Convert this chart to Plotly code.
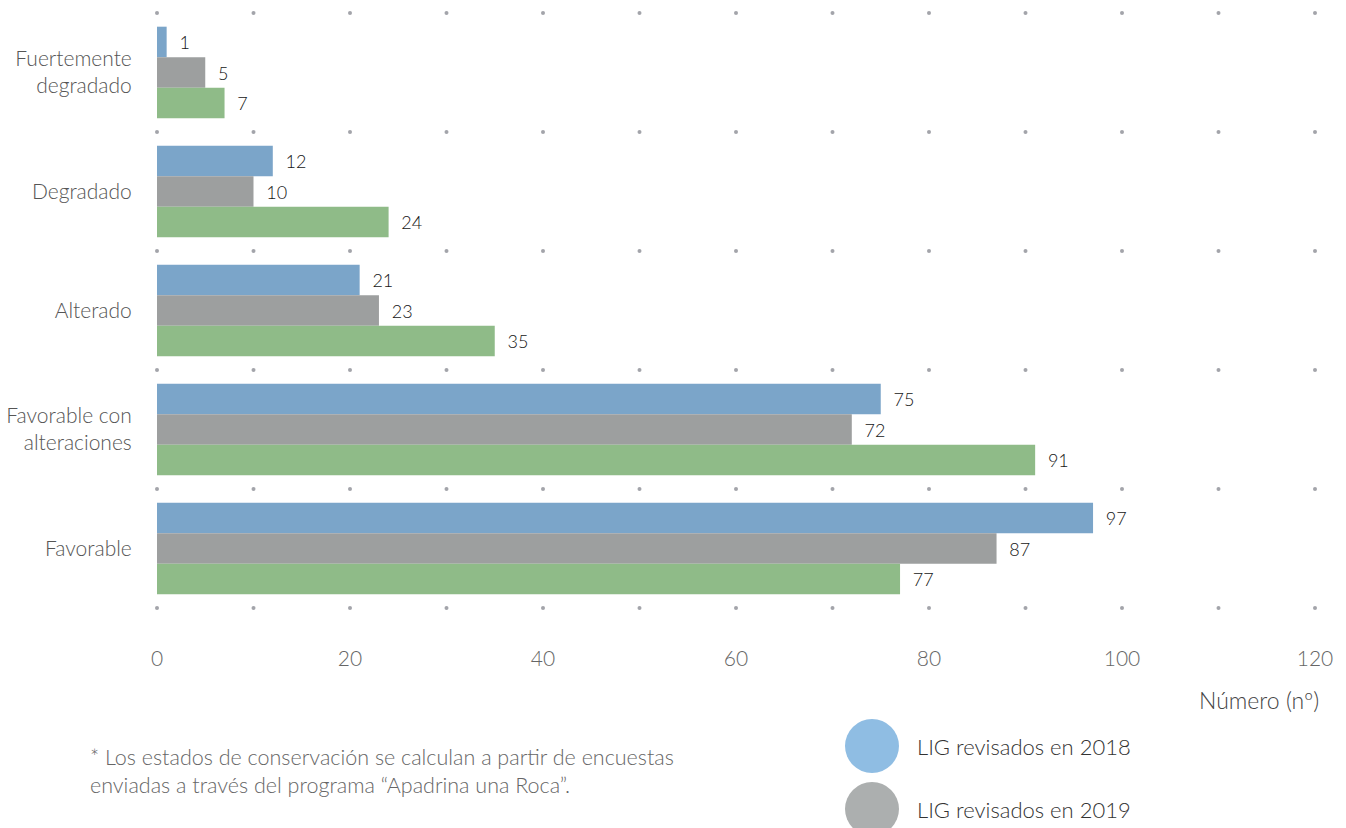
import plotly.graph_objects as go

# Conservation states (top to bottom) and counts per review year
categories = ["Fuertemente<br>degradado", "Degradado", "Alterado",
              "Favorable con<br>alteraciones", "Favorable"]
lig_2018 = [1, 12, 21, 75, 97]
lig_2019 = [5, 10, 23, 72, 87]
lig_2020 = [7, 24, 35, 91, 77]
x_ticks = [0, 20, 40, 60, 80, 100, 120]

positions = list(range(len(categories)))

series = [
    ("LIG revisados en 2018", lig_2018, "#7ba5c9"),
    ("LIG revisados en 2019", lig_2019, "#9d9f9f"),
    ("LIG revisados en 2020", lig_2020, "#8fbb88"),
]

FONT = "Lato"

fig = go.Figure()

# Dotted background grid: a dot every 10 units on each row boundary
dot_x, dot_y = [], []
for b in range(len(categories) + 1):
    for v in range(0, 121, 10):
        dot_x.append(v)
        dot_y.append(b - 0.5)
fig.add_trace(go.Scatter(
    x=dot_x, y=dot_y, mode="markers",
    marker=dict(size=4, color="#a3a4aa"),
    hoverinfo="skip", showlegend=False, cliponaxis=False,
))

for name, vals, color in series:
    fig.add_trace(go.Bar(
        y=positions, x=vals, name=name, orientation="h",
        marker=dict(color=color, line=dict(width=0)),
        text=vals, texttemplate="  %{x}", textposition="outside",
        textfont=dict(family=FONT, size=18, color="#151515", weight=300),
        cliponaxis=False, showlegend=False,
    ))

fig.update_layout(
    width=1346, height=828,
    margin=dict(l=157, r=31, t=13, b=220),
    paper_bgcolor="white", plot_bgcolor="white",
    barmode="group", bargap=0.23, bargroupgap=0,
    font=dict(family=FONT, color="#555555", weight=300),
    xaxis=dict(
        range=[0, 120], tickvals=x_ticks, showgrid=False, zeroline=False,
        showline=False, ticks="outside", ticklen=32, tickcolor="rgba(0,0,0,0)",
        tickfont=dict(family=FONT, size=21, color="#666666", weight=300),
        automargin=False,
    ),
    yaxis=dict(
        range=[4.5, -0.5], tickvals=positions, ticktext=categories,
        showgrid=False, zeroline=False, showline=False,
        ticks="outside", ticklen=20, tickcolor="rgba(0,0,0,0)",
        tickfont=dict(family=FONT, size=21, color="#555555", weight=300),
        automargin=False,
    ),
)

# Axis title
fig.add_annotation(
    text="Número (nº)", xref="paper", yref="paper", x=1.005, y=-0.155,
    xanchor="right", yanchor="middle", showarrow=False,
    font=dict(family=FONT, size=23, color="#444444", weight=300),
)

# Footnote
fig.add_annotation(
    text="* Los estados de conservación se calculan a partir de encuestas<br>"
         "enviadas a través del programa “Apadrina una Roca”.",
    xref="paper", yref="paper", x=-0.06, y=-0.226,
    xanchor="left", yanchor="top", align="left", showarrow=False,
    font=dict(family=FONT, size=21.5, color="#666666", weight=300),
)

# Legend drawn as circles with labels
legend_items = [("LIG revisados en 2018", "#8fbde3"),
                ("LIG revisados en 2019", "#acafaf")]
for i, (label, col) in enumerate(legend_items):
    cy = 746 + i * 63
    fig.add_shape(
        type="circle", xref="paper", yref="paper",
        x0=(845 - 157) / 1158, x1=(899 - 157) / 1158,
        y0=(608 - (cy + 27)) / 595, y1=(608 - (cy - 27)) / 595,
        fillcolor=col, line=dict(width=0),
    )
    fig.add_annotation(
        text=label, xref="paper", yref="paper",
        x=(915 - 157) / 1158, y=(608 - cy) / 595,
        xanchor="left", yanchor="middle", showarrow=False,
        font=dict(family=FONT, size=22, color="#333333", weight=300),
    )

fig.write_html("out.html")
